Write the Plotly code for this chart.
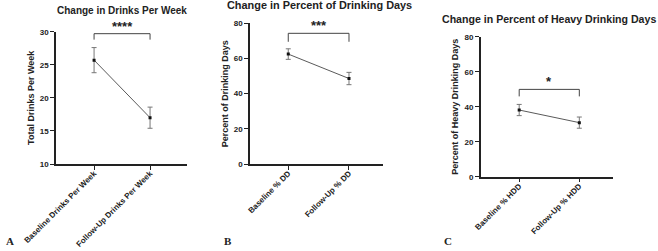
import plotly.graph_objects as go

# Data
cats_a = ["Baseline Drinks Per Week", "Follow-Up Drinks Per Week"]
vals_a = [25.7, 17.0]
err_a = [1.9, 1.6]

cats_b = ["Baseline % DD", "Follow-Up % DD"]
vals_b = [62.5, 48.6]
err_b = [3.0, 3.5]

cats_c = ["Baseline % HDD", "Follow-Up % HDD"]
vals_c = [38.1, 30.9]
err_c = [3.2, 3.2]

titles = ["Change in Drinks Per Week", "Change in Percent of Drinking Days",
          "Change in Percent of Heavy Drinking Days"]
ytitles = ["Total Drinks Per Week", "Percent of Drinking Days", "Percent of Heavy Drinking Days"]
stars = ["****", "***", "*"]
bracket_top = [29.7, 74.3, 49.9]
bracket_bottom = [28.8, 69.5, 45.9]
yranges = [[10, 30], [0, 80], [0, 80]]
ytickvals = [[10, 15, 20, 25, 30], [0, 20, 40, 60, 80], [0, 20, 40, 60, 80]]
panel_letters = ["A", "B", "C"]

W, H = 658, 251
xdoms = [[56 / W, 187 / W], [250 / W, 383 / W], [480.7 / W, 613 / W]]
ydoms = [[1 - 164 / H, 1 - 31.7 / H], [1 - 164 / H, 1 - 23.3 / H], [1 - 176.7 / H, 1 - 36.7 / H]]
xranges = [[-0.68, 1.66], [-0.63, 1.56], [-0.64, 1.56]]
title_pos = [(122, 11), (319, 5), (548.5, 19)]
title_sizes = [10.0, 10.9, 10.6]
letter_pos = [(4, 241), (222, 241), (442, 241)]

FONT = "Liberation Sans"
fig = go.Figure()

datasets = [(cats_a, vals_a, err_a), (cats_b, vals_b, err_b), (cats_c, vals_c, err_c)]
for i, (cats, vals, errs) in enumerate(datasets):
    xa = "x" if i == 0 else f"x{i+1}"
    ya = "y" if i == 0 else f"y{i+1}"
    fig.add_trace(go.Scatter(
        x=cats, y=vals, mode="lines+markers",
        line=dict(color="#5a5a5a", width=1),
        marker=dict(symbol="square", size=3, color="#111111"),
        error_y=dict(type="data", array=errs, color="#777777", thickness=1, width=2.5),
        xaxis=xa, yaxis=ya, showlegend=False,
    ))
    axkey = "xaxis" if i == 0 else f"xaxis{i+1}"
    aykey = "yaxis" if i == 0 else f"yaxis{i+1}"
    fig.update_layout(**{
        axkey: dict(
            domain=xdoms[i], anchor=ya, type="category", range=xranges[i],
            automargin=False,
            showline=True, linecolor="#222222", linewidth=1.5,
            ticks="outside", ticklen=4, tickwidth=1, tickcolor="#222222",
            tickangle=-45, showgrid=False, zeroline=False, ticklabelstandoff=-4,
            tickfont=dict(family=FONT, size=8, color="#222222", weight="bold"),
        ),
        aykey: dict(
            domain=ydoms[i], anchor=xa, range=yranges[i], tickvals=ytickvals[i],
            automargin=False,
            showline=True, linecolor="#222222", linewidth=1.5,
            ticks="outside", ticklen=4, tickwidth=1, tickcolor="#222222",
            showgrid=False, zeroline=False,
            tickfont=dict(family=FONT, size=8, color="#222222", weight="bold"),
            title=dict(text=ytitles[i], standoff=4,
                       font=dict(family=FONT, size=9, color="#222222", weight="bold")),
        ),
    })
    # bracket
    fig.add_shape(type="line", xref=xa, yref=ya, x0=cats[0], x1=cats[1],
                  y0=bracket_top[i], y1=bracket_top[i], line=dict(color="#444444", width=1))
    for c in cats:
        fig.add_shape(type="line", xref=xa, yref=ya, x0=c, x1=c,
                      y0=bracket_bottom[i], y1=bracket_top[i], line=dict(color="#444444", width=1))
    fig.add_annotation(xref=xa, yref=ya, x=0.5, y=bracket_top[i], text=stars[i],
                       showarrow=False, yanchor="bottom", yshift=-2,
                       font=dict(family=FONT, size=13, color="#222222", weight="bold"))
    # title
    tx, ty = title_pos[i]
    fig.add_annotation(xref="paper", yref="paper", x=tx / W, y=1 - ty / H, text=titles[i],
                       showarrow=False, xanchor="center", yanchor="middle",
                       font=dict(family=FONT, size=title_sizes[i], color="#222222", weight="bold"))
    lx, ly = letter_pos[i]
    fig.add_annotation(xref="paper", yref="paper", x=lx / W, y=1 - ly / H, text=panel_letters[i],
                       showarrow=False, xanchor="left", yanchor="middle",
                       font=dict(family="Liberation Serif", size=11, color="#222222", weight="bold"))

fig.update_layout(
    width=W, height=H, margin=dict(l=0, r=0, t=0, b=0),
    paper_bgcolor="white", plot_bgcolor="white",
)
fig.write_html("out.html", config={"displayModeBar": False},
               post_script="document.body.style.margin='0';document.body.style.overflow='hidden';")
